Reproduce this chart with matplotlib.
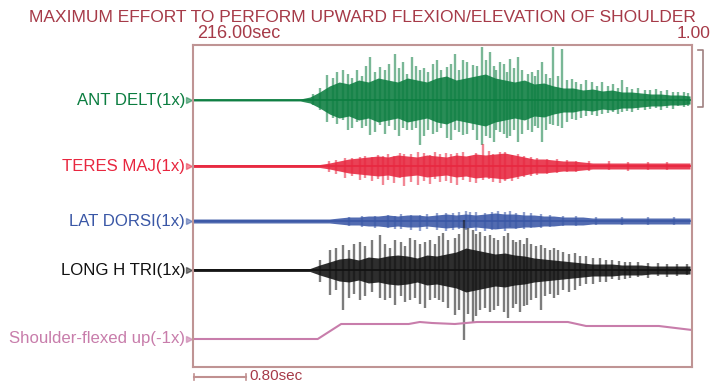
import numpy as np
import matplotlib.pyplot as plt

plt.rcParams['font.family'] = ['Liberation Sans', 'DejaVu Sans']

# ---- data (time in sec, amplitudes in arbitrary trace units) ----
channels = ['ANT DELT(1x)', 'TERES MAJ(1x)', 'LAT DORSI(1x)', 'LONG H TRI(1x)']
colors = ['#0b7d40', '#e8263f', '#3a57a6', '#111111']

# envelope grid, one value every 0.15 s
t_grid = np.arange(52) * 0.15

delt_core = [1, 1, 1, 1, 1, 1, 1, 1, 1, 1, 1, 1,
             3, 8, 14, 18, 16, 20, 18, 22, 20, 18, 22, 20, 18, 22, 24, 20, 22, 24,
             26, 22, 20, 18, 20, 16, 17, 14, 12, 12, 10, 11, 9, 10, 8, 8, 7, 6,
             6, 5, 5, 4]
teres_core = [1.5, 1.5, 1.5, 1.5, 1.5, 1.5, 1.5, 1.5, 1.5, 1.5, 1.5, 1.5, 1.5, 1.5,
              3, 5, 7, 8, 9, 10, 9, 11, 10, 9, 11, 10, 9, 11, 10, 12, 11, 12, 13,
              11, 9, 7, 7, 6, 5, 5, 4, 3, 3, 3, 3, 3, 3, 3, 3, 3, 3, 3]
lat_core = [2, 2, 2, 2, 2, 2, 2, 2, 2, 2, 2, 2, 2, 2, 2,
            3, 4, 4, 5, 5, 6, 5, 6, 6, 5, 6, 7, 6, 7, 6, 7, 8, 7, 7, 6, 6, 5, 5,
            4, 4, 4, 3, 3, 3, 3, 3, 3, 3, 3, 3, 3, 3]
tri_core = [1.5, 1.5, 1.5, 1.5, 1.5, 1.5, 1.5, 1.5, 1.5, 1.5, 1.5, 1.5, 1.5,
            5, 8, 11, 12, 10, 13, 12, 14, 15, 14, 12, 15, 14, 16, 18, 22, 20, 18,
            16, 17, 15, 14, 12, 11, 10, 9, 8, 7, 6, 6, 6, 5, 5, 5, 4, 4, 4, 4, 4]

# individual spikes: time, height above, depth below
delt_spk_t = [2.06, 2.31, 2.45, 2.72, 2.88, 3.11, 3.23, 3.37, 3.49, 3.75, 3.91, 4.03,
              4.15, 4.31, 4.45, 4.57, 4.72, 4.88, 5.00, 5.15, 5.37, 5.54, 5.68, 5.83,
              6.14, 6.60, 6.95, 7.46,
              1.85, 1.95, 2.15, 2.22, 2.38, 2.52, 2.60, 2.66, 2.80, 2.95, 3.02, 3.17,
              3.30, 3.43, 3.56, 3.62, 3.69, 3.82, 3.97, 4.09, 4.22, 4.37, 4.51, 4.63,
              4.67, 4.78, 4.83, 4.94, 5.07, 5.21, 5.27, 5.31, 5.44, 5.49, 5.61, 5.75,
              5.90, 5.97, 6.05, 6.22, 6.30, 6.38, 6.47, 6.54, 6.68, 6.76, 6.85, 7.03,
              7.12, 7.20, 7.30, 7.38, 7.55, 7.62]
delt_spk_up = [25, 30, 22, 43, 33, 46, 38, 43, 30, 40, 33, 46, 40, 35, 53, 48, 38, 41,
               43, 26, 38, 53, 51, 21, 18, 20, 10, 8,
               6, 12, 22, 28, 26, 30, 24, 34, 28, 30, 36, 32,
               26, 34, 32, 28, 36, 30, 36, 30, 38, 34, 40, 34,
               30, 36, 28, 32, 30, 28, 24, 30, 26, 22, 24, 20,
               18, 16, 20, 14, 18, 14, 16, 12, 13, 11, 12, 10,
               11, 9, 10, 8, 8, 7]
delt_spk_dn = [22, 20, 28, 35, 25, 30, 28, 30, 45, 32, 38, 30, 35, 30, 45, 38, 32, 36,
               42, 30, 42, 25, 28, 19, 15, 12, 10, 6,
               5, 10, 18, 24, 30, 22, 28, 26, 32, 34, 26, 36,
               30, 28, 36, 30, 34, 28, 40, 32, 34, 40, 36, 42,
               30, 34, 38, 30, 34, 32, 26, 28, 30, 24, 26, 22,
               20, 18, 16, 16, 14, 13, 12, 14, 11, 12, 10, 9,
               8, 10, 8, 9, 7, 6]

teres_spk_t = [2.34, 2.57, 2.92, 3.25, 3.46, 3.80, 4.06, 4.26, 4.46, 4.72, 4.91,
               2.10, 2.20, 2.45, 2.65, 2.75, 2.85, 3.00, 3.10, 3.18, 3.35, 3.55, 3.65,
               3.72, 3.90, 3.97, 4.15, 4.35, 4.55, 4.62, 4.80, 5.00, 5.10, 5.20, 5.30,
               5.45, 5.60, 5.75, 5.90, 6.10, 6.40, 6.70, 7.00, 7.30]
teres_spk_up = [8, 9, 10, 12, 14, 12, 13, 10, 22, 14, 11,
                5, 6, 8, 10, 9, 11, 12, 10, 13, 12, 13, 11,
                14, 13, 12, 14, 13, 15, 12, 14, 12, 10, 9, 8,
                7, 7, 6, 5, 5, 5, 4, 4, 4]
teres_spk_dn = [12, 14, 19, 20, 19, 16, 19, 16, 14, 17, 15,
                6, 8, 10, 12, 15, 13, 14, 17, 12, 16, 15, 18,
                13, 15, 17, 14, 17, 13, 16, 15, 13, 11, 10, 9,
                8, 7, 6, 6, 5, 4, 5, 4, 4]

lat_spk_t = [3.11, 3.49, 4.00, 4.26, 4.49, 4.88,
             2.40, 2.60, 2.80, 3.00, 3.20, 3.35, 3.60, 3.75, 3.90, 4.10, 4.20, 4.35,
             4.60, 4.70, 4.80, 4.97, 5.10, 5.20, 5.35, 5.50, 5.70, 5.90, 6.20, 6.60,
             7.00, 7.40]
lat_spk_up = [5, 6, 8, 9, 8, 10,
              4, 5, 5, 6, 7, 6, 7, 8, 8, 9, 10, 9,
              9, 10, 9, 8, 9, 8, 7, 6, 5, 5, 4, 4,
              4, 4]
lat_spk_dn = [8, 10, 9, 6, 10, 6,
              5, 6, 7, 7, 8, 9, 8, 9, 10, 8, 9, 10,
              9, 8, 10, 8, 8, 7, 7, 6, 5, 5, 4, 4,
              4, 4]

tri_spk_t = [2.11, 2.31, 2.57, 2.88, 3.11, 3.34, 3.57, 3.85, 4.03, 4.17, 4.31, 4.42,
             4.57, 4.85, 5.03, 5.14, 5.35, 5.62, 5.88, 6.26, 6.72,
             1.95, 2.20, 2.40, 2.48, 2.65, 2.75, 2.95, 3.03, 3.20, 3.27, 3.42, 3.50,
             3.65, 3.72, 3.78, 3.93, 4.10, 4.24, 4.36, 4.50, 4.63, 4.70, 4.78, 4.92,
             4.97, 5.09, 5.20, 5.28, 5.42, 5.50, 5.55, 5.70, 5.78, 5.95, 6.05, 6.15,
             6.35, 6.45, 6.55, 6.65, 6.85, 7.00, 7.15, 7.30, 7.45, 7.60]
tri_spk_up = [20, 25, 28, 35, 30, 32, 28, 37, 32, 50, 40, 38, 35, 37, 30, 32, 25, 20,
              17, 12, 8,
              10, 22, 20, 26, 24, 30, 26, 22, 28, 24, 30, 26,
              30, 26, 34, 30, 36, 42, 36, 34, 32, 30, 34, 30,
              28, 26, 26, 24, 22, 20, 22, 18, 16, 14, 14, 12,
              10, 10, 9, 8, 8, 7, 7, 6, 6, 6]
tri_spk_dn = [25, 40, 30, 28, 35, 30, 38, 32, 45, 70, 52, 40, 42, 48, 42, 35, 40, 25,
              20, 12, 8,
              12, 20, 28, 24, 26, 22, 30, 28, 26, 32, 28, 34,
              30, 28, 30, 38, 40, 44, 46, 38, 40, 36, 42, 38,
              34, 36, 30, 28, 26, 24, 28, 20, 22, 16, 14, 14,
              12, 9, 10, 9, 7, 8, 6, 7, 6, 5]

# shoulder position trace
sh_t = [0, 0.88, 1.92, 2.28, 3.32, 3.49, 3.68, 4.03, 4.37, 5.77, 6.05, 7.17, 7.68]
sh_v = [0, 0, 0, 15, 15, 17, 16, 15, 17, 17, 13, 13, 9]

cores = [delt_core, teres_core, lat_core, tri_core]
spikes = [(delt_spk_t, delt_spk_up, delt_spk_dn),
          (teres_spk_t, teres_spk_up, teres_spk_dn),
          (lat_spk_t, lat_spk_up, lat_spk_dn),
          (tri_spk_t, tri_spk_up, tri_spk_dn)]

# ---- figure ----
fig = plt.figure(figsize=(7.12, 3.82), dpi=100)
ax = fig.add_axes([193 / 712, 15 / 382, 499 / 712, 322 / 382])
ax.set_xlim(0, 7.68)
ax.set_ylim(0, 322)
ax.set_xticks([])
ax.set_yticks([])
for s in ax.spines.values():
    s.set_color('#bf9494')
    s.set_linewidth(1.5)

offsets = [267, 201, 146, 97]
for name, col, core, (st, su, sd), off in zip(channels, colors, cores, spikes, offsets):
    core = np.array(core)
    ax.vlines(st, off - np.array(sd), off + np.array(su), color=col, lw=1.7, alpha=0.55)
    ax.fill_between(t_grid, off - core, off + core, color=col, lw=0, alpha=0.88)
    ax.plot([0, 7.68], [off, off], color=col, lw=1.2)
    ax.plot([-0.06], [off], marker='>', ms=4, color=col, alpha=0.5, clip_on=False)
    ax.text(-0.12, off, name, color=col, fontsize=12.1, ha='right', va='center')

sh_col = '#c87dab'
ax.plot(sh_t, 28 + np.array(sh_v), color=sh_col, lw=1.5)
ax.plot([-0.06], [28], marker='>', ms=4, color=sh_col, alpha=0.6, clip_on=False)
ax.text(-0.12, 28, 'Shoulder-flexed up(-1x)', color=sh_col, fontsize=12.1,
        ha='right', va='center')

# header texts
title_col = '#a63a48'
fig.text(362 / 712, 1 - 17 / 382, 'MAXIMUM EFFORT TO PERFORM UPWARD FLEXION/ELEVATION OF SHOULDER',
         color=title_col, fontsize=12.5, ha='center', va='center')
fig.text(197 / 712, 1 - 34 / 382, '216.00sec', color=title_col, fontsize=13,
         ha='left', va='center')
fig.text(711 / 712, 1 - 34 / 382, '1.00', color=title_col, fontsize=12.5,
         ha='right', va='center')

# right bracket
fig.add_artist(plt.Line2D([698 / 712, 703 / 712, 703 / 712, 698 / 712],
                          [1 - 50 / 382, 1 - 50 / 382, 1 - 107 / 382, 1 - 107 / 382],
                          color='#a08080', lw=1.2))

# scale bar 0.80 sec
ax.plot([0.02, 0.82], [-10, -10], color='#c09090', lw=1.5, clip_on=False)
ax.plot([0.02, 0.02], [-13, -7], color='#c09090', lw=1.2, clip_on=False)
ax.plot([0.82, 0.82], [-13, -7], color='#c09090', lw=1.2, clip_on=False)
ax.text(0.86, -13, '0.80sec', color=title_col, fontsize=11, ha='left', va='baseline')

fig.savefig('out.png', dpi=100)
